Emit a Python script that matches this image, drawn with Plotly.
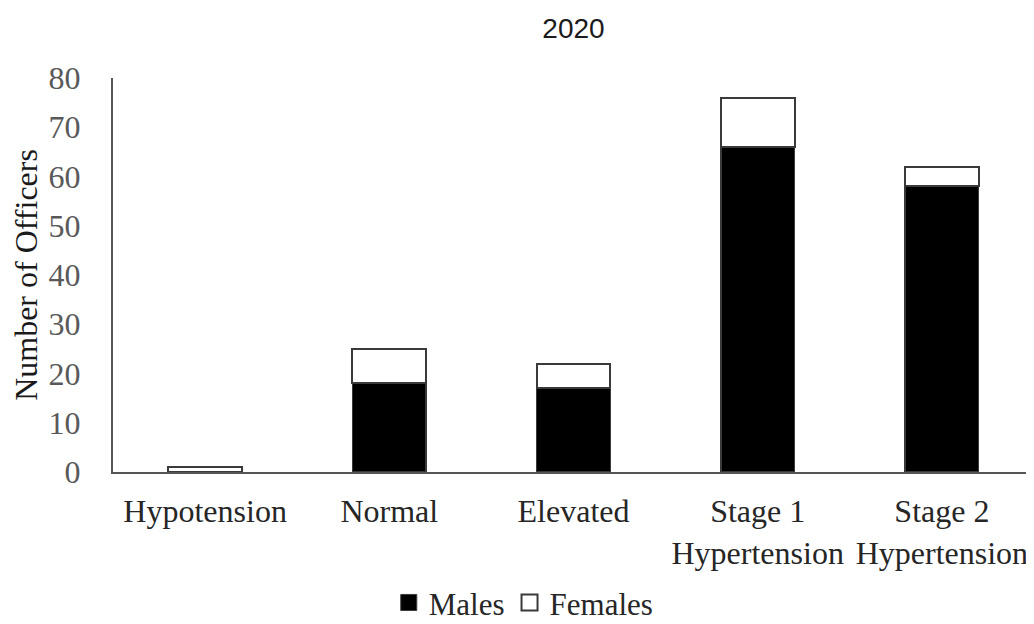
import plotly.graph_objects as go

categories = ["Hypotension", "Normal", "Elevated", "Stage 1<br>Hypertension", "Stage 2<br>Hypertension"]
males = [0, 18, 17, 66, 58]
females = [1, 7, 5, 10, 4]
y_ticks = [0, 10, 20, 30, 40, 50, 60, 70, 80]

serif = "Liberation Serif"
edge = "#3a3a3a"

fig = go.Figure()
fig.add_trace(go.Bar(x=categories, y=males, name="Males", showlegend=False,
                     marker=dict(color="black", line=dict(color=edge, width=1.5))))
fig.add_trace(go.Bar(x=categories, y=females, name="Females", showlegend=False,
                     marker=dict(color="white", line=dict(color=edge, width=2))))
# legend entries with larger square swatches
fig.add_trace(go.Scatter(x=[None], y=[None], mode="markers", name="Males",
                         marker=dict(symbol="square", size=18, color="black",
                                     line=dict(color=edge, width=1))))
fig.add_trace(go.Scatter(x=[None], y=[None], mode="markers", name="Females",
                         marker=dict(symbol="square", size=18, color="white",
                                     line=dict(color=edge, width=2))))

# the page body adds an 8px offset, so the figure is 8px smaller on each axis
fig.update_layout(
    width=1026, height=616,
    barmode="stack", bargap=0.6,
    paper_bgcolor="white", plot_bgcolor="white",
    margin=dict(l=105, r=0, t=70, b=152, autoexpand=False),
    title=dict(text="2020", x=0.5, xanchor="center", xref="paper", y=0.967, yref="container",
               yanchor="middle",
               font=dict(family="Liberation Sans", size=28, color="#1a1a1a")),
    font=dict(family=serif, size=32, color="#262626"),
    legend=dict(orientation="h", x=0.446, xanchor="center", y=-0.332, yanchor="middle",
                font=dict(family=serif, size=31, color="#262626"),
                itemwidth=30, traceorder="normal", tracegroupgap=0),
    yaxis=dict(range=[0, 80], tickvals=y_ticks, showgrid=False, zeroline=False,
               showline=True, linecolor="#555555", linewidth=2,
               ticks="", ticklabelstandoff=24, automargin=False,
               tickfont=dict(family=serif, size=32, color="#595959"),
               title=dict(text="Number of Officers", standoff=10,
                          font=dict(family=serif, size=32, color="#1a1a1a"))),
    xaxis=dict(showgrid=False, showline=True, linecolor="#555555", linewidth=2,
               ticks="", ticklabelstandoff=10, automargin=False,
               tickfont=dict(family=serif, size=32, color="#262626")),
)

fig.write_html("out.html")
